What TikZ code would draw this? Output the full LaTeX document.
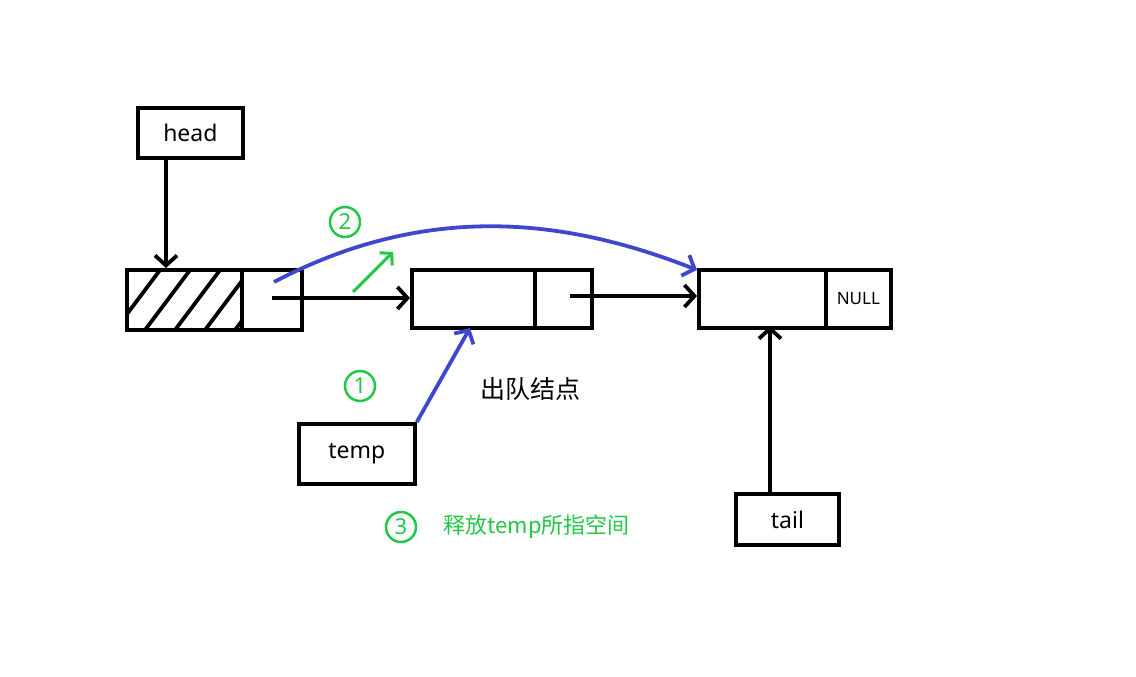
\documentclass[tikz,border=0pt]{standalone}
\usepackage{fontspec}
\setmainfont{Noto Sans}
\newfontfamily\cjk{Noto Sans CJK SC}
\usetikzlibrary{arrows.meta}
\definecolor{gr}{HTML}{22C745}
\definecolor{bl}{HTML}{3F48CC}
\begin{document}
\begin{tikzpicture}[x=1pt,y=-1pt,
  box/.style={draw,line width=3.8pt,inner sep=0pt,anchor=north west},
  ar/.style={line width=3.8pt,-{Straight Barb[length=10pt,width=22pt,line width=3.8pt]}},
  circ/.style={draw=gr,line width=2.5pt,circle,minimum size=30pt,inner sep=0pt,text=gr,font=\fontsize{22}{22}\selectfont},
  lbl/.style={font=\fontsize{23}{23}\selectfont}]
\useasboundingbox (0,0) rectangle (1136,677);
% head
\node[box,minimum width=105pt,minimum height=50pt,lbl] (head) at (136,106) {head};
% node1
\node[box,minimum width=115pt,minimum height=60pt] (n1a) at (125,268) {};
\begin{scope}
\clip (125,268) rectangle (240,328);
\foreach \i in {0,...,6} \draw[line width=3.8pt] (100+\i*30,350) -- (175+\i*30,250);
\end{scope}
\node[box,minimum width=115pt,minimum height=60pt] at (125,268) {};
\node[box,minimum width=60pt,minimum height=60pt] (n1b) at (240,268) {};
% node2
\node[box,minimum width=123pt,minimum height=58pt] (n2a) at (410,268) {};
\node[box,minimum width=57pt,minimum height=58pt] (n2b) at (533,268) {};
% node3
\node[box,minimum width=127pt,minimum height=58pt] (n3a) at (697,268) {};
\node[box,minimum width=65pt,minimum height=58pt,font=\fontsize{17}{17}\selectfont] (n3b) at (824,268) {NULL};
% temp, tail
\node[box,minimum width=116pt,minimum height=60pt,lbl] (temp) at (297,422) {temp};
\node[box,minimum width=103pt,minimum height=51pt,lbl] (tail) at (734,492) {tail};
% coordinates
\coordinate (p1) at (272,298);
\coordinate (p2) at (570,296);
\coordinate (q1) at (274,282);
\draw[ar] (head.south west |- head.south) ++(30,0) -- (166,268);
\draw[ar] (p1) -- (n2a.west |- p1);
\draw[ar] (p2) -- (n3a.west |- p2);
\draw[ar] (tail.north west) ++(36,0) -- (770,326);
\draw[ar,draw=bl] (q1) .. controls (430,200) and (570,220) .. (697,270);
\draw[ar,draw=bl] (temp.north east) -- (470,328);
\draw[line width=3pt,draw=gr,-{Straight Barb[length=8pt,width=18pt,line width=3pt]}] (353,292) -- (393,252);
\node[circ] (c1) at (360,386) {1};
\node[circ] (c2) at (345,222) {2};
\node[circ] (c3) at (401,527) {3};
\node[font=\cjk\fontsize{25}{25}\selectfont] (t1) at (530,389) {出队结点};
\node[text=gr,anchor=west,font=\cjk\fontsize{22}{22}\selectfont] (t2) at (440,527) {释放temp所指空间};
\end{tikzpicture}
\end{document}
